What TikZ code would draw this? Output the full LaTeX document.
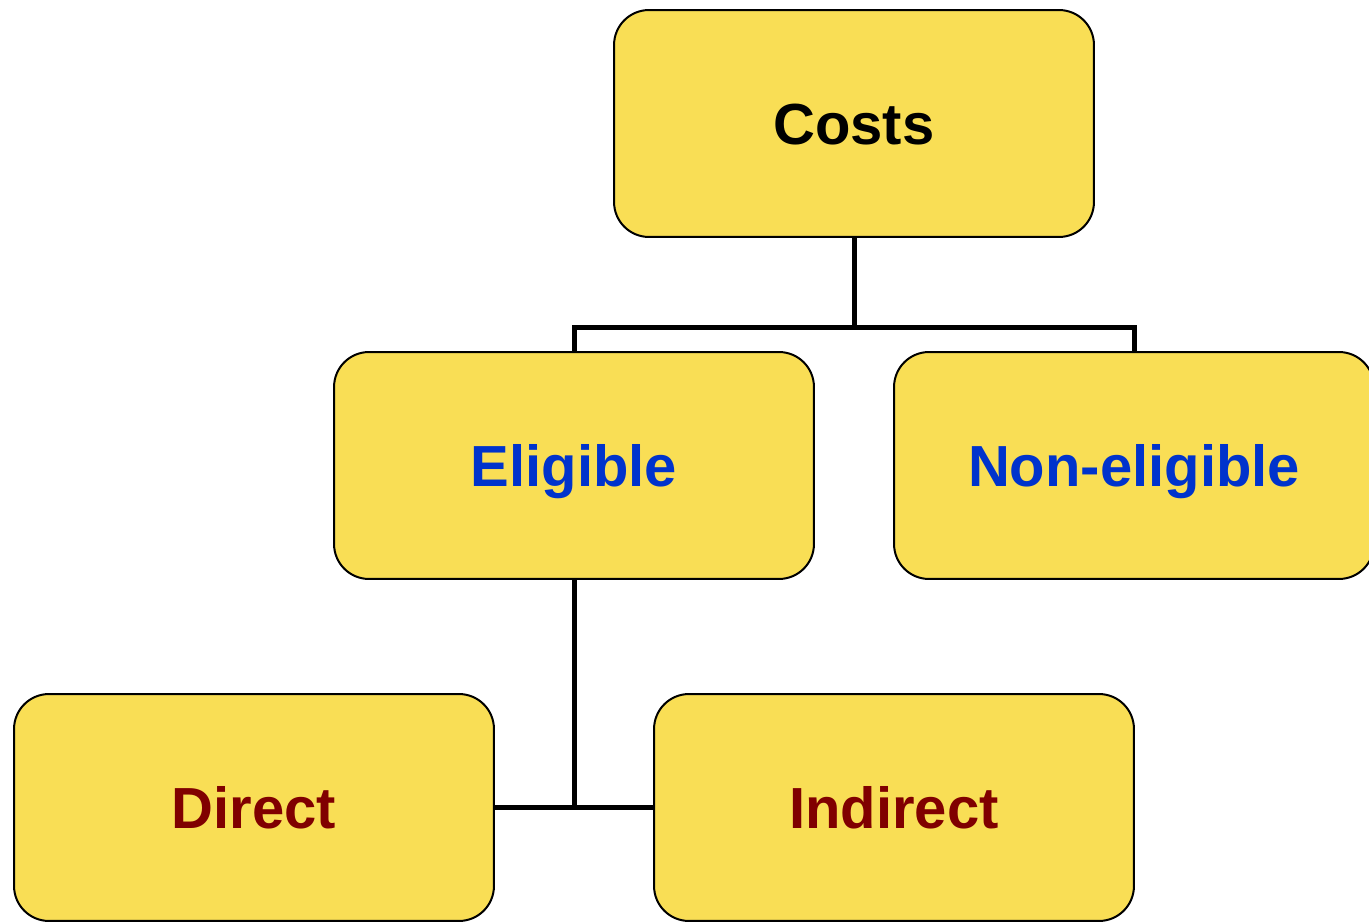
\documentclass[tikz,border=0pt]{standalone}
\usepackage{fontspec}
\setmainfont{Liberation Sans}
\definecolor{boxfill}{HTML}{F9DE55}
\definecolor{tblue}{HTML}{0033CC}
\definecolor{tred}{HTML}{800000}
\begin{document}
\begin{tikzpicture}[x=0.02cm,y=-0.02cm,
  box/.style={draw=black, line width=0.04cm, fill=boxfill, rounded corners=0.7cm,
    minimum width=9.6cm, minimum height=4.54cm, inner sep=0pt,
    text height=23.6pt, text depth=0pt,
    font=\fontsize{33}{36}\selectfont\bfseries},
  conn/.style={draw=black, line width=0.1cm}]
\useasboundingbox (0,0) rectangle (1369,922);
\clip (0,0) rectangle (1369,922);
\node[box, text=black] (costs) at (854,123.5) {Costs};
\node[box, text=tblue] (elig) at (574,465.5) {Eligible};
\node[box, text=tblue] (nonelig) at (1134,465.5) {Non-eligible};
\node[box, text=tred] (direct) at (254,807.5) {Direct};
\node[box, text=tred] (indirect) at (894,807.5) {Indirect};
\coordinate (j1) at (854,327);
\coordinate (j2) at (574,807.5);
\draw[conn] (costs.south) -- (j1);
\draw[conn] (elig.north) |- (j1) -| (nonelig.north);
\draw[conn] (elig.south) -- (j2);
\draw[conn] (direct.east) -- (indirect.west);
\end{tikzpicture}
\end{document}
